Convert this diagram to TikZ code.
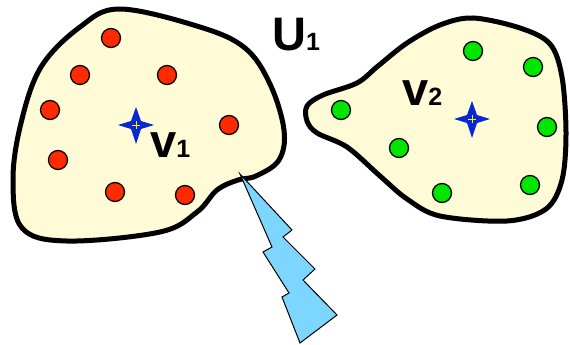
\documentclass[tikz,border=0pt]{standalone}
\usepackage{fontspec}
\setmainfont{Liberation Sans}
\definecolor{blobfill}{HTML}{FFFBD6}
\definecolor{dotred}{HTML}{FF2A00}
\definecolor{dotgreen}{HTML}{00E600}
\definecolor{starblue}{HTML}{0A28D2}
\definecolor{boltblue}{HTML}{7DD6FF}
\tikzset{
  blob/.style={draw=black, line width=5pt, fill=blobfill, line join=round},
  reddot/.style={circle, draw=black, line width=1.3pt, fill=dotred, minimum size=19pt, inner sep=0pt},
  greendot/.style={circle, draw=black, line width=1.3pt, fill=dotgreen, minimum size=19pt, inner sep=0pt},
  bolt/.style={draw=black, line width=1pt, fill=boltblue, line join=miter},
  lbl/.style={inner sep=0pt, anchor=base west, font=\bfseries},
  centremark/.style={yellow, line width=1pt}
}
\newcommand{\bigtxt}{\fontsize{47}{47}\selectfont}
\newcommand{\smalltxt}{\fontsize{25}{25}\selectfont}
\newcommand{\starat}[1]{%
  \fill[starblue] (#1) ++(-18,0) -- ++(13,-4) -- ++(5,-14) -- ++(5,14) -- ++(13,4)
     -- ++(-13,4) -- ++(-5,15) -- ++(-5,-15) -- cycle;
  \draw[centremark] (#1) ++(-4,0) -- ++(8,0);
  \draw[centremark] (#1) ++(0,-4) -- ++(0,8);}
\begin{document}
\begin{tikzpicture}[x=1pt,y=-1pt]
\useasboundingbox (0,0) rectangle (570,345);
% blob 1
\draw[blob] plot[smooth cycle, tension=0.6] coordinates {
  (120,9) (200,27) (245,48) (270,84) (284,130) (279,160) (256,176) (238,180)
  (217,190) (197,212) (160,232) (67,241) (22,228) (13,180) (21,123) (41,67) (80,27)};
% blob 2
\draw[blob] plot[smooth cycle, tension=0.55] coordinates {
  (307,106) (323,95) (357,83) (378,66) (407,43) (440,25) (473,18) (520,28)
  (550,44) (562,77) (566,133) (562,180) (546,209) (507,221) (440,216) (407,199)
  (380,176) (347,147) (317,133) (307,121)};
% red dots
\node[reddot] (r1) at (111,38) {};
\node[reddot] (r2) at (80,75) {};
\node[reddot] (r3) at (167,75) {};
\node[reddot] (r4) at (50,110) {};
\node[reddot] (r5) at (229,125) {};
\node[reddot] (r6) at (58,160) {};
\node[reddot] (r7) at (115,192) {};
\node[reddot] (r8) at (185,195) {};
% green dots
\node[greendot] (g1) at (473,51) {};
\node[greendot] (g2) at (533,67) {};
\node[greendot] (g3) at (341,110) {};
\node[greendot] (g4) at (547,127) {};
\node[greendot] (g5) at (399,148) {};
\node[greendot] (g6) at (530,185) {};
\node[greendot] (g7) at (442,193) {};
% stars
\coordinate (s1) at (136,125);
\coordinate (s2) at (472,119);
\starat{s1}
\starat{s2}
% labels
\node[lbl] (v1) at (150,157) {\bigtxt v\smalltxt 1};
\node[lbl] (v2) at (402,105) {\bigtxt v\smalltxt 2};
\node[lbl] (u1) at (272,51) {\bigtxt U\smalltxt 1};
% lightning bolt
\draw[bolt] (240,174) -- (292,230) -- (283,237) -- (315,269) -- (303,280)
  -- (337,315) -- (300,343) -- (282,297) -- (289,293) -- (263,252)
  -- (272,247) -- cycle;
\end{tikzpicture}
\end{document}
